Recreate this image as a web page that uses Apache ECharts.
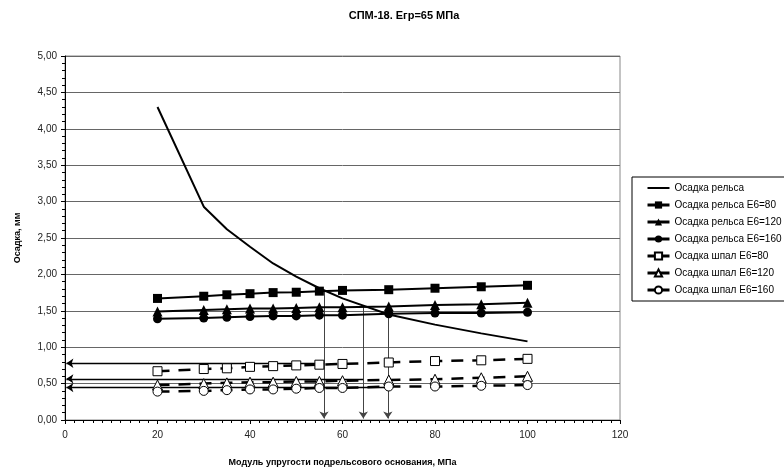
<!DOCTYPE html>
<html>
<head>
<meta charset="utf-8">
<script src="https://cdn.jsdelivr.net/npm/echarts@6/dist/echarts.min.js"></script>
<style>
  html, body { margin: 0; padding: 0; background: #fff; }
  #chart { width: 784px; height: 468px; }
</style>
</head>
<body>
<div id="chart"></div>
<script>
// модуль упругости, МПа
const xValues = [20, 30, 35, 40, 45, 50, 55, 60, 70, 80, 90, 100]

const railSettle = [4.30, 2.93, 2.62, 2.38, 2.15, 1.97, 1.81, 1.67, 1.45, 1.31, 1.19, 1.08]
const rail80 = [1.67, 1.70, 1.72, 1.735, 1.75, 1.755, 1.77, 1.78, 1.79, 1.81, 1.83, 1.85]
const rail120 = [1.49, 1.51, 1.52, 1.53, 1.53, 1.54, 1.55, 1.55, 1.56, 1.58, 1.59, 1.61]
const rail160 = [1.39, 1.40, 1.41, 1.42, 1.43, 1.43, 1.44, 1.44, 1.46, 1.47, 1.47, 1.48]
const sleeper80 = [0.67, 0.70, 0.71, 0.73, 0.74, 0.75, 0.76, 0.77, 0.79, 0.81, 0.82, 0.84]
const sleeper120 = [0.48, 0.50, 0.51, 0.52, 0.52, 0.53, 0.53, 0.54, 0.55, 0.56, 0.58, 0.60]
const sleeper160 = [0.39, 0.40, 0.41, 0.42, 0.42, 0.43, 0.44, 0.44, 0.46, 0.46, 0.47, 0.48]

// стрелки: [x1, y1, x2, y2]
const arrowsDown = [
  [56, 1.77, 56, 0.02],
  [64.5, 1.56, 64.5, 0.02],
  [69.8, 1.46, 69.8, 0.02]
]
const arrowsLeft = [
  [56, 0.78, 0.3, 0.78],
  [64.5, 0.565, 0.3, 0.565],
  [69.8, 0.445, 0.3, 0.445]
]

const legendNames = [
  'Осадка рельса',
  'Осадка рельса Е6=80',
  'Осадка рельса Е6=120',
  'Осадка рельса Е6=160',
  'Осадка шпал Е6=80',
  'Осадка шпал Е6=120',
  'Осадка шпал Е6=160'
]

const font = '"Liberation Sans", Arial, sans-serif'
const pairs = arr => xValues.map((x, i) => [x, arr[i]])

const chart = echarts.init(document.getElementById('chart'), null, { renderer: 'canvas' })

const railSeries = (name, data, symbol, size) => ({
  name,
  type: 'line',
  data: pairs(data),
  symbol,
  symbolSize: size,
  showSymbol: true,
  itemStyle: { color: '#000', borderColor: '#000', borderWidth: 0 },
  lineStyle: { color: '#000', width: 2 },
  z: 4
})

const sleeperSeries = (name, data, symbol, size) => ({
  name,
  type: 'line',
  data: pairs(data),
  symbol,
  symbolSize: size,
  showSymbol: true,
  itemStyle: { color: '#fff', borderColor: '#000', borderWidth: 1 },
  lineStyle: { color: '#000', width: 2.5, type: [12, 9] },
  z: 4
})

const arrowSeries = (list, color, width) => ({
  type: 'lines',
  coordinateSystem: 'cartesian2d',
  symbol: ['none', 'arrow'],
  symbolSize: 7,
  silent: true,
  lineStyle: { color, width, opacity: 1 },
  data: list.map(a => ({ coords: [[a[0], a[1]], [a[2], a[3]]] })),
  z: 3
})

const option = {
  animation: false,
  backgroundColor: '#fff',
  title: {
    text: 'СПМ-18. Егр=65 МПа',
    left: 399,
    top: 5,
    textAlign: 'center',
    textStyle: { fontFamily: font, fontSize: 11, fontWeight: 'bold', color: '#000' }
  },
  legend: {
    data: legendNames.map((name, i) => i === 0
      ? { name, itemStyle: { opacity: 0 }, lineStyle: { width: 2, color: '#000', opacity: 1 } }
      : { name, lineStyle: { width: 3, type: 'solid', color: '#000' } }),
    orient: 'vertical',
    left: 632,
    top: 177,
    padding: [5, 3, 5, 14],
    itemWidth: 22,
    itemHeight: 9,
    itemGap: 5,
    borderColor: '#000',
    borderWidth: 1,
    borderRadius: 0,
    textStyle: { fontFamily: font, fontSize: 10, color: '#000', lineHeight: 12 }
  },
  grid: {
    left: 65,
    right: 164,
    top: 56,
    bottom: 48,
    containLabel: false,
    outerBoundsMode: 'none',
    show: true,
    borderColor: '#888',
    borderWidth: 1
  },
  xAxis: {
    type: 'value',
    min: 0,
    max: 120,
    interval: 20,
    name: 'Модуль упругости подрельсового основания, МПа',
    nameLocation: 'middle',
    nameGap: 38,
    nameTextStyle: { fontFamily: font, fontSize: 9, fontWeight: 'bold', color: '#000' },
    axisLine: { onZero: false, lineStyle: { color: '#000', width: 1 } },
    axisTick: { length: 4, lineStyle: { color: '#000' } },
    minorTick: { show: true, splitNumber: 10, length: 3, lineStyle: { color: '#000' } },
    axisLabel: { fontFamily: font, fontSize: 10, color: '#222', margin: 10 },
    splitLine: { show: false }
  },
  yAxis: {
    type: 'value',
    min: 0,
    max: 5,
    interval: 0.5,
    name: 'Осадка, мм',
    nameLocation: 'middle',
    nameGap: 43,
    nameTextStyle: { fontFamily: font, fontSize: 9, fontWeight: 'bold', color: '#000' },
    axisLine: { show: true, lineStyle: { color: '#000', width: 1 } },
    axisTick: { show: true, length: 4, lineStyle: { color: '#000' } },
    minorTick: { show: true, splitNumber: 5, length: 3, lineStyle: { color: '#000' } },
    axisLabel: {
      fontFamily: font,
      fontSize: 10,
      color: '#222',
      margin: 8,
      formatter: v => v.toFixed(2).replace('.', ',')
    },
    splitLine: { show: true, lineStyle: { color: '#666', width: 1 } }
  },
  series: [
    {
      name: 'Осадка рельса',
      type: 'line',
      data: pairs(railSettle),
      symbol: 'none',
      showSymbol: false,
      itemStyle: { color: '#000' },
      lineStyle: { color: '#000', width: 2 },
      z: 5
    },
    railSeries('Осадка рельса Е6=80', rail80, 'rect', 9),
    railSeries('Осадка рельса Е6=120', rail120, 'triangle', 10),
    railSeries('Осадка рельса Е6=160', rail160, 'circle', 9),
    sleeperSeries('Осадка шпал Е6=80', sleeper80, 'rect', 9),
    sleeperSeries('Осадка шпал Е6=120', sleeper120, 'triangle', 10),
    sleeperSeries('Осадка шпал Е6=160', sleeper160, 'circle', 9),
    arrowSeries(arrowsDown, '#444', 1),
    arrowSeries(arrowsLeft, '#000', 1.3)
  ]
}

chart.setOption(option)
</script>
</body>
</html>
